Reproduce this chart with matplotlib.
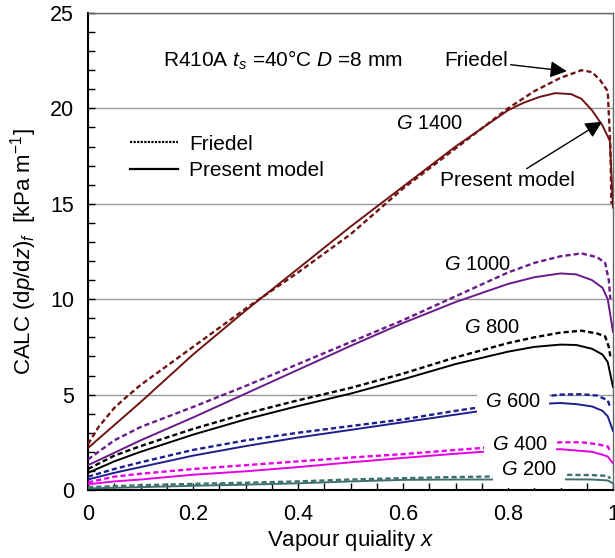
import matplotlib
matplotlib.use('Agg')
import matplotlib.pyplot as plt
from matplotlib.lines import Line2D
from matplotlib.ticker import MultipleLocator

plt.rcParams['font.family'] = ['Liberation Sans', 'DejaVu Sans']
plt.rcParams['mathtext.fontset'] = 'custom'
plt.rcParams['mathtext.rm'] = 'Liberation Sans'
plt.rcParams['mathtext.it'] = 'Liberation Sans:italic'

# G 1400
x1400_m = [0, 0.05, 0.1, 0.2, 0.3, 0.4, 0.5, 0.6, 0.7, 0.8, 0.83, 0.86, 0.89, 0.92, 0.94, 0.96, 0.98, 0.994, 1.0]
y1400_m = [2.2, 3.4, 4.6, 7.1, 9.4, 11.6, 13.8, 15.9, 18.0, 19.9, 20.3, 20.6, 20.8, 20.75, 20.5, 19.9, 19.1, 18.3, 14.8]
x1400_f = [0, 0.02, 0.05, 0.07, 0.1, 0.2, 0.3, 0.4, 0.5, 0.6, 0.7, 0.8, 0.85, 0.9, 0.94, 0.96, 0.975, 0.99, 0.995, 0.997]
y1400_f = [2.4, 3.3, 4.3, 4.8, 5.5, 7.5, 9.5, 11.4, 13.4, 15.8, 17.9, 20.0, 20.9, 21.6, 22.0, 21.9, 21.5, 20.9, 18.0, 15.0]

# G 1000
x1000_m = [0, 0.05, 0.1, 0.2, 0.3, 0.4, 0.5, 0.6, 0.7, 0.8, 0.85, 0.9, 0.93, 0.96, 0.98, 0.99, 1.0]
y1000_m = [1.3, 1.95, 2.6, 3.8, 5.05, 6.3, 7.55, 8.75, 9.85, 10.8, 11.15, 11.35, 11.3, 11.0, 10.6, 10.0, 8.3]
x1000_f = [0, 0.05, 0.1, 0.2, 0.3, 0.4, 0.5, 0.6, 0.7, 0.8, 0.85, 0.9, 0.94, 0.97, 0.985, 0.992, 0.995]
y1000_f = [1.6, 2.6, 3.3, 4.35, 5.45, 6.6, 7.75, 8.9, 10.15, 11.4, 11.9, 12.25, 12.4, 12.2, 11.9, 11.0, 10.0]

# G 800
x800_m = [0, 0.05, 0.1, 0.2, 0.3, 0.4, 0.5, 0.6, 0.7, 0.8, 0.85, 0.9, 0.93, 0.96, 0.98, 0.99, 1.0]
y800_m = [0.9, 1.5, 2.0, 2.9, 3.7, 4.4, 5.05, 5.8, 6.6, 7.25, 7.5, 7.62, 7.6, 7.4, 7.1, 6.7, 5.4]
x800_f = [0, 0.05, 0.1, 0.2, 0.3, 0.4, 0.5, 0.6, 0.7, 0.8, 0.85, 0.9, 0.94, 0.97, 0.985, 0.992, 0.995]
y800_f = [1.1, 1.8, 2.3, 3.2, 4.0, 4.7, 5.35, 6.1, 6.95, 7.7, 8.0, 8.25, 8.35, 8.2, 8.05, 7.5, 7.0]

# G 600
x600_m = [0, 0.05, 0.1, 0.2, 0.3, 0.4, 0.5, 0.6, 0.7, 0.75, 0.8, 0.85, 0.9, 0.93, 0.96, 0.98, 0.99, 1.0]
y600_m = [0.55, 0.9, 1.2, 1.8, 2.3, 2.75, 3.15, 3.55, 3.95, 4.15, 4.35, 4.5, 4.56, 4.5, 4.38, 4.15, 3.86, 3.1]
x600_f = [0, 0.05, 0.1, 0.2, 0.3, 0.4, 0.5, 0.6, 0.7, 0.75, 0.8, 0.85, 0.9, 0.94, 0.97, 0.99, 0.995]
y600_f = [0.7, 1.1, 1.45, 2.1, 2.6, 3.0, 3.35, 3.7, 4.15, 4.35, 4.65, 4.85, 5.0, 5.02, 4.95, 4.7, 4.3]

# G 400
x400_m = [0, 0.05, 0.1, 0.2, 0.3, 0.4, 0.5, 0.6, 0.7, 0.75, 0.8, 0.9, 0.96, 0.98, 0.99, 1.0]
y400_m = [0.3, 0.45, 0.55, 0.8, 0.98, 1.2, 1.45, 1.68, 1.9, 2.0, 2.05, 2.14, 2.0, 1.85, 1.75, 1.4]
x400_f = [0, 0.05, 0.1, 0.2, 0.3, 0.4, 0.5, 0.6, 0.7, 0.75, 0.8, 0.9, 0.94, 0.97, 0.99, 0.995]
y400_f = [0.4, 0.7, 0.85, 1.1, 1.3, 1.5, 1.7, 1.88, 2.1, 2.2, 2.3, 2.5, 2.5, 2.4, 2.28, 2.0]

# G 200
x200_m = [0, 0.1, 0.2, 0.3, 0.4, 0.5, 0.6, 0.7, 0.8, 0.9, 0.96, 0.99, 1.0]
y200_m = [0.08, 0.15, 0.22, 0.28, 0.35, 0.45, 0.53, 0.55, 0.55, 0.56, 0.55, 0.5, 0.35]
x200_f = [0, 0.1, 0.2, 0.3, 0.4, 0.5, 0.6, 0.7, 0.8, 0.9, 0.96, 0.99, 0.995]
y200_f = [0.15, 0.25, 0.32, 0.38, 0.45, 0.55, 0.62, 0.68, 0.72, 0.8, 0.78, 0.74, 0.6]

curves = [
    (x1400_m, y1400_m, x1400_f, y1400_f, '#701414'),
    (x1000_m, y1000_m, x1000_f, y1000_f, '#6A1A8A'),
    (x800_m, y800_m, x800_f, y800_f, '#000000'),
    (x600_m, y600_m, x600_f, y600_f, '#1E1E8C'),
    (x400_m, y400_m, x400_f, y400_f, '#E600E6'),
    (x200_m, y200_m, x200_f, y200_f, '#3F6F6F'),
]

# labels: text, x, y, white box
g_labels = [
    ('1400', 0.65, 19.2, False),
    ('1000', 0.743, 11.84, False),
    ('800', 0.769, 8.53, False),
    ('600', 0.81, 4.63, True),
    ('400', 0.823, 2.37, True),
    ('200', 0.84, 1.05, True),
]

fig = plt.figure(figsize=(6.15, 5.58), dpi=100)
ax = fig.add_axes([88 / 615, 1 - 490 / 558, 525 / 615, 477 / 558])

for xm, ym, xf, yf, c in curves:
    ax.plot(xf, yf, color=c, lw=1.7, ls=(0, (2.2, 1.3)), zorder=3)
    ax.plot(xm, ym, color=c, lw=1.4, zorder=3)

for g, gx, gy, box in g_labels:
    kw = {}
    if box:
        kw['bbox'] = dict(boxstyle='square,pad=0.4', fc='white', ec='none')
    ax.text(gx, gy, '$G$ ' + g, fontsize=14.5, ha='center', va='center', zorder=5, **kw)

ax.text(0.143, 22.5, r'R410A $t_s$ =40°C $D$ =8 mm', fontsize=15, ha='left', va='center')

arrow = dict(arrowstyle='-|>', color='black', lw=1.0, mutation_scale=25, shrinkA=0, shrinkB=0)
ax.annotate('Friedel', xy=(0.912, 21.95), xytext=(0.739, 22.5), fontsize=15,
            ha='center', va='center', arrowprops=arrow)
ax.annotate('Present model', xy=(0.979, 19.3), xytext=(0.798, 16.2), fontsize=15,
            ha='center', va='center', arrowprops=arrow)

handles = [Line2D([], [], color='black', lw=1.6, ls=(0, (1, 0.6))),
           Line2D([], [], color='black', lw=1.6)]
ax.legend(handles, ['Friedel', 'Present model'], loc='upper left',
          bbox_to_anchor=(0.08, 0.745), frameon=False, fontsize=15,
          handlelength=2.3, handletextpad=0.55, labelspacing=0.35,
          borderpad=0, borderaxespad=0)

ax.set_xlim(0, 1)
ax.set_ylim(0, 25)
ax.set_xticks([0, 0.2, 0.4, 0.6, 0.8, 1])
ax.set_xticklabels(['0', '0.2', '0.4', '0.6', '0.8', '1'])
ax.set_yticks([0, 5, 10, 15, 20, 25])
ax.xaxis.set_minor_locator(MultipleLocator(0.05))
ax.yaxis.set_minor_locator(MultipleLocator(1))
ax.tick_params(which='both', direction='in', length=5, width=1, labelsize=15.5, pad=10,
               top=False, right=False)
ax.grid(axis='y', which='major', color='#999999', lw=1)
ax.set_axisbelow(True)

for s in ['left', 'bottom']:
    ax.spines[s].set_linewidth(1.5)
for s in ['top', 'right']:
    ax.spines[s].set_linewidth(1.0)
    ax.spines[s].set_color('#666666')

ax.set_xlabel('Vapour quiality $x$', fontsize=16, labelpad=2)
ax.set_ylabel(r'CALC (d$p$/d$z$)$_f$  [kPa m$^{-1}$]', fontsize=16, labelpad=8)

fig.savefig('out.png', dpi=100)
